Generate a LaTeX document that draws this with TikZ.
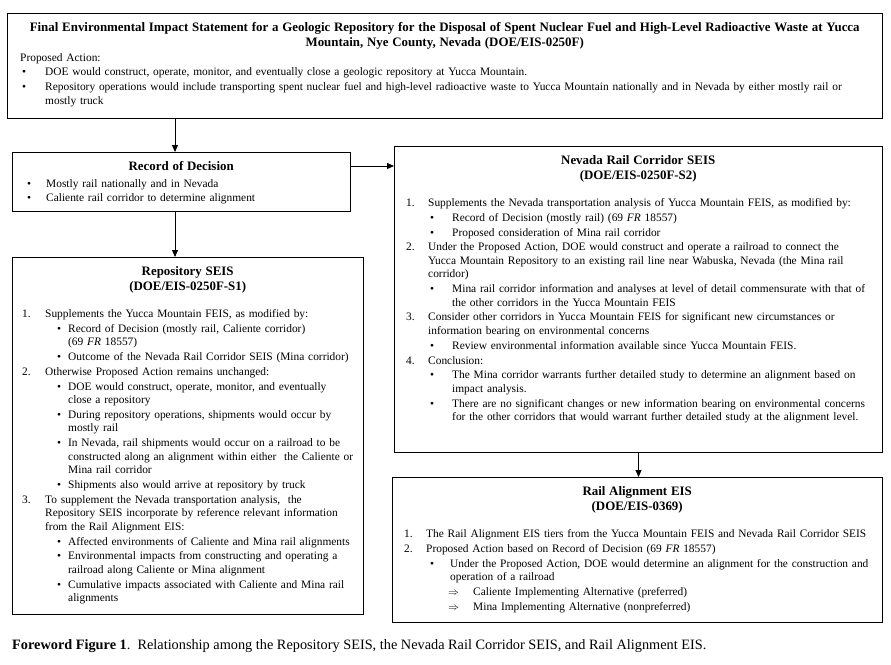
\documentclass[tikz,border=0pt]{standalone}
\usepackage{fontspec}
\setmainfont{Liberation Serif}
\usetikzlibrary{arrows.meta}
\hyphenpenalty=10000

\newcommand{\litem}[3]{\par\noindent\hangindent=#2\hangafter=1\makebox[#2][l]{\hspace*{#1}#3}\ignorespaces}
\newcommand{\boxtitle}[1]{{\centering\fontsize{12.9pt}{15pt}\selectfont\bfseries #1\par}}

\begin{document}
\begin{tikzpicture}[x=1pt,y=-1pt]
			\tikzset{frame/.style={draw,line width=1pt,anchor=north west,inner sep=0pt}}
			\tikzset{boxtext/.style={anchor=north west,inner sep=0pt,align=left,font=\fontsize{11.4pt}{13.5pt}\selectfont\setlength{\parskip}{1.3pt}}}
			\tikzset{arr/.style={line width=0.9pt,-{Triangle[length=7pt,width=6pt]}}}
			\useasboundingbox (0,0) rectangle (891,664);
			% frames
			\node[frame,minimum width=875pt,minimum height=105pt] (feis) at (7,13) {};
			\node[frame,minimum width=338pt,minimum height=59pt] (rod) at (12,152) {};
			\node[frame,minimum width=488pt,minimum height=306pt] (nseis) at (394,146) {};
			\node[frame,minimum width=351pt,minimum height=357pt] (rseis) at (12,257) {};
			\node[frame,minimum width=490pt,minimum height=145pt] (raeis) at (392,477) {};
			% texts
			\node[boxtext,text width=865pt] (feistext) at ([shift={(5,9)}]feis.north west) {%
				\boxtitle{Final Environmental Impact Statement for a Geologic Repository for the Disposal of Spent Nuclear Fuel and High-Level Radioactive Waste at Yucca\\ Mountain, Nye County, Nevada (DOE/EIS-0250F)}
				\litem{8pt}{8pt}{}Proposed Action:
				\litem{10pt}{33pt}{\textbullet}DOE would construct, operate, monitor, and eventually close a geologic repository at Yucca Mountain.
				\litem{10pt}{33pt}{\textbullet}Repository operations would include transporting spent nuclear fuel and high-level radioactive waste to Yucca Mountain nationally and in Nevada by either mostly rail or\newline mostly truck\par};
			\node[boxtext,text width=328pt] (rodtext) at ([shift={(5,9)}]rod.north west) {%
				\boxtitle{Record of Decision}\vspace{2pt}
				\litem{10pt}{29pt}{\textbullet}Mostly rail nationally and in Nevada
				\litem{10pt}{29pt}{\textbullet}Caliente rail corridor to determine alignment\par};
			\node[boxtext,text width=341pt] (rseistext) at ([shift={(5,9)}]rseis.north west) {%
				\boxtitle{Repository SEIS\\(DOE/EIS-0250F-S1)}\vspace{12.5pt}
				\litem{5pt}{28pt}{1.}Supplements the Yucca Mountain FEIS, as modified by:
				\litem{40pt}{51pt}{\textbullet}Record of Decision (mostly rail, Caliente corridor)\newline(69 \textit{FR} 18557)
				\litem{40pt}{51pt}{\textbullet}Outcome of the Nevada Rail Corridor SEIS (Mina corridor)
				\litem{5pt}{28pt}{2.}Otherwise Proposed Action remains unchanged:
				\litem{40pt}{51pt}{\textbullet}DOE would construct, operate, monitor, and eventually\newline close a repository
				\litem{40pt}{51pt}{\textbullet}During repository operations, shipments would occur by\newline mostly rail
				\litem{40pt}{51pt}{\textbullet}In Nevada, rail shipments would occur on a railroad to be\newline constructed along an alignment within either\ \ the Caliente or\newline Mina rail corridor
				\litem{40pt}{51pt}{\textbullet}Shipments also would arrive at repository by truck
				\litem{5pt}{28pt}{3.}To supplement the Nevada transportation analysis,\ \ the\newline Repository SEIS incorporate by reference relevant information\newline from the Rail Alignment EIS:
				\litem{40pt}{51pt}{\textbullet}Affected environments of Caliente and Mina rail alignments
				\litem{40pt}{51pt}{\textbullet}Environmental impacts from constructing and operating a\newline railroad along Caliente or Mina alignment
				\litem{40pt}{51pt}{\textbullet}Cumulative impacts associated with Caliente and Mina rail\newline alignments\par};
			\node[boxtext,text width=478pt] (nseistext) at ([shift={(5,9)}]nseis.north west) {%
				\boxtitle{Nevada Rail Corridor SEIS\\(DOE/EIS-0250F-S2)}\vspace{12.5pt}
				\litem{7pt}{29pt}{1.}Supplements the Nevada transportation analysis of Yucca Mountain FEIS, as modified by:
				\litem{31pt}{53pt}{\textbullet}Record of Decision (mostly rail) (69 \textit{FR} 18557)
				\litem{31pt}{53pt}{\textbullet}Proposed consideration of Mina rail corridor
				\litem{7pt}{29pt}{2.}Under the Proposed Action, DOE would construct and operate a railroad to connect the\newline Yucca Mountain Repository to an existing rail line near Wabuska, Nevada (the Mina rail\newline corridor)
				\litem{31pt}{53pt}{\textbullet}Mina rail corridor information and analyses at level of detail commensurate with that of\newline the other corridors in the Yucca Mountain FEIS
				\litem{7pt}{29pt}{3.}Consider other corridors in Yucca Mountain FEIS for significant new circumstances or\newline information bearing on environmental concerns
				\litem{31pt}{53pt}{\textbullet}Review environmental information available since Yucca Mountain FEIS.
				\litem{7pt}{29pt}{4.}Conclusion:
				\litem{31pt}{53pt}{\textbullet}The Mina corridor warrants further detailed study to determine an alignment based on\newline impact analysis.
				\litem{31pt}{53pt}{\textbullet}There are no significant changes or new information bearing on environmental concerns\newline for the other corridors that would warrant further detailed study at the alignment level.\par};
			\node[boxtext,text width=480pt] (raeistext) at ([shift={(5,9)}]raeis.north west) {%
				\boxtitle{Rail Alignment EIS\\(DOE/EIS-0369)}\vspace{12.5pt}
				\litem{7pt}{29pt}{1.}The Rail Alignment EIS tiers from the Yucca Mountain FEIS and Nevada Rail Corridor SEIS
				\litem{7pt}{29pt}{2.}Proposed Action based on Record of Decision (69 \textit{FR} 18557)
				\litem{33pt}{53pt}{\textbullet}Under the Proposed Action, DOE would determine an alignment for the construction and\newline operation of a railroad
				\litem{51pt}{76pt}{$\Rightarrow$}Caliente Implementing Alternative (preferred)
				\litem{51pt}{76pt}{$\Rightarrow$}Mina Implementing Alternative (nonpreferred)\par};
			\node[anchor=base west,inner sep=0pt,font=\fontsize{14.3pt}{16pt}\selectfont] (caption) at (12,649)
				{\textbf{Foreword Figure 1}.\ \ Relationship among the Repository SEIS, the Nevada Rail Corridor SEIS, and Rail Alignment EIS.};
			% connectors
			\coordinate (leftcol) at (175,0);
			\coordinate (rodrow) at (0,166);
			\draw[arr] (feis.south -| leftcol) -- (rod.north -| leftcol);
			\draw[arr] (rod.south -| leftcol) -- (rseis.north -| leftcol);
			\draw[arr] (rod.east |- rodrow) -- (nseis.west |- rodrow);
			\draw[arr] (nseis.south) -- (nseis.south |- raeis.north);
		\end{tikzpicture}
\end{document}
